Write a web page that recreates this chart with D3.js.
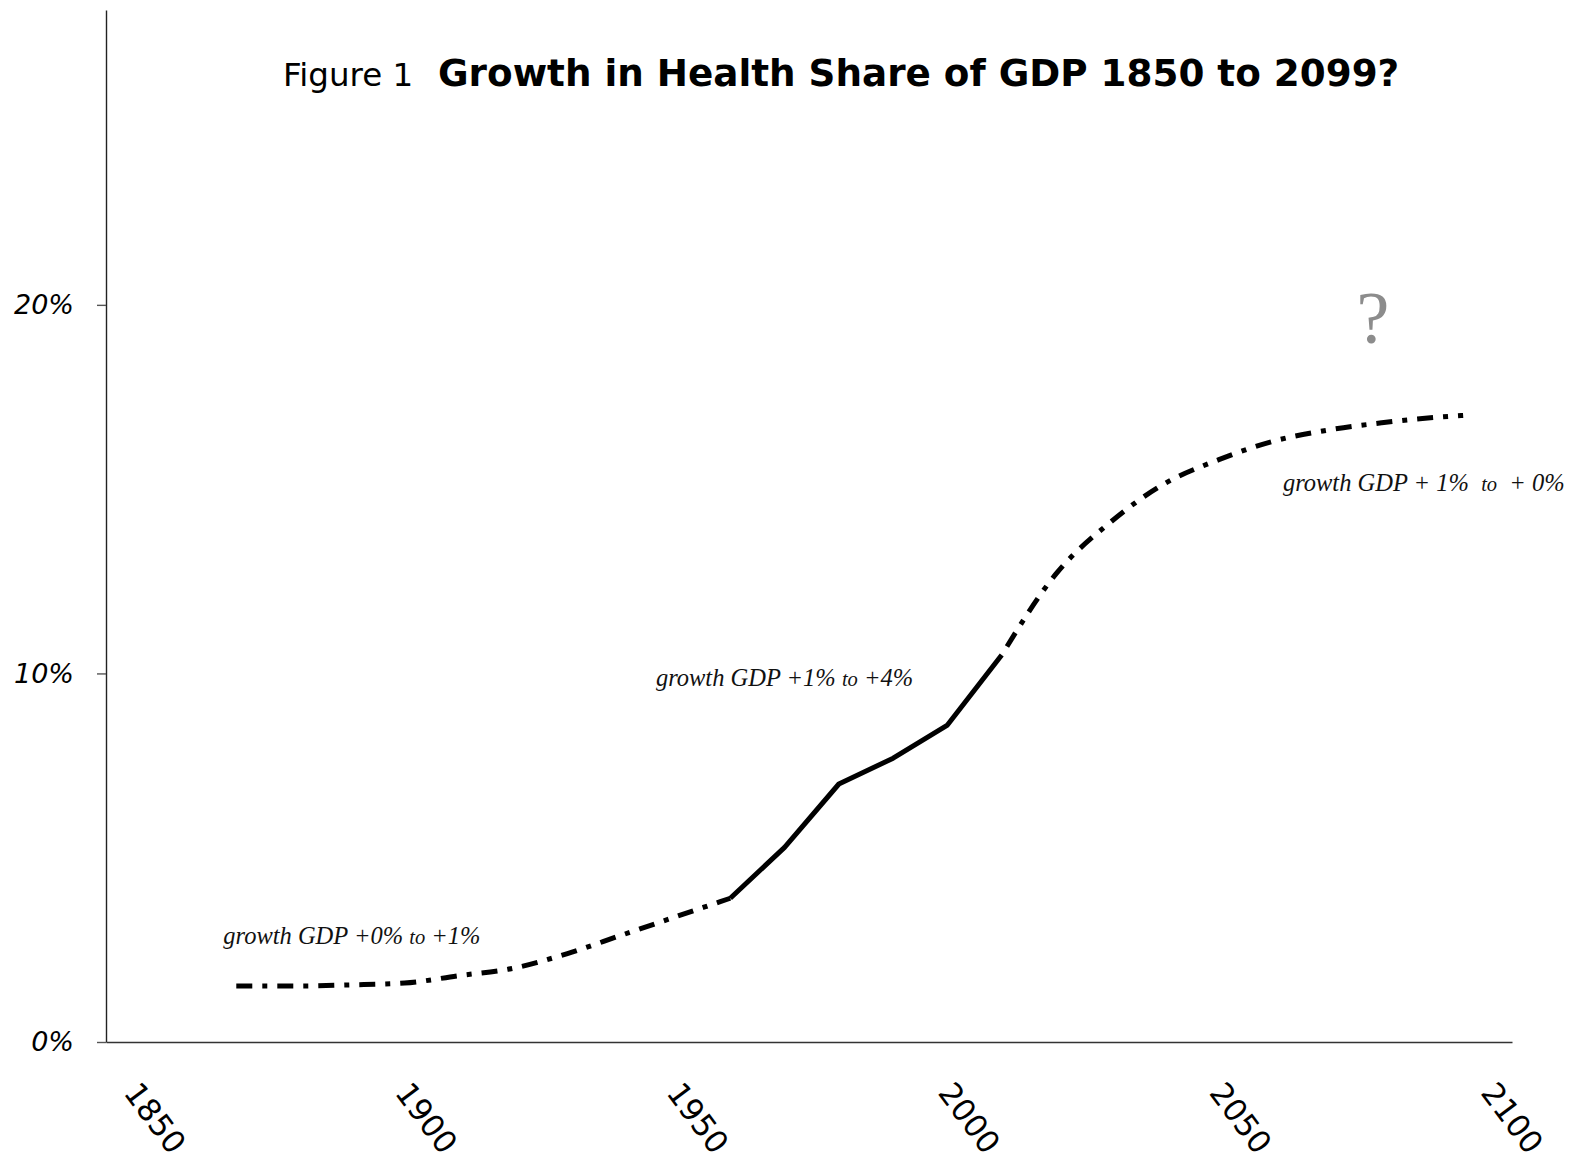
<!DOCTYPE html>
<html>
<head>
<meta charset="utf-8">
<script src="https://cdn.jsdelivr.net/npm/d3@7"></script>
<style>
  html, body { margin: 0; padding: 0; background: #fff; }
  svg { display: block; }
  .note { white-space: pre; }
</style>
</head>
<body>
<svg id="chart" width="1570" height="1162"></svg>
<script>
// Health spending as a share of GDP (%), by year
const histYears = [1869, 1880, 1890, 1900, 1910, 1920, 1930, 1940, 1950, 1960];
const histShare = [1.52, 1.52, 1.55, 1.6, 1.8, 2.0, 2.4, 2.9, 3.4, 3.9];

const obsYears = [1960, 1970, 1980, 1990, 2000, 2010];
const obsShare = [3.9, 5.28, 7.0, 7.7, 8.6, 10.5];

const projYears = [2010, 2020, 2030, 2040, 2050, 2060, 2070, 2080, 2090, 2095];
const projShare = [10.5, 12.7, 14.1, 15.15, 15.8, 16.3, 16.6, 16.8, 16.95, 17.0];

const xTickYears = [1850, 1900, 1950, 2000, 2050, 2100];
const yTickValues = [0, 10, 20];

const titlePrefix = "Figure 1";
const titleMain = "Growth in Health Share of GDP 1850 to 2099?";

const svg = d3.select("#chart");

const x = d3.scaleLinear().domain([1845, 2104]).range([106, 1512]);
const y = d3.scaleLinear().domain([0, 28]).range([1042, 10]);

const sans = "Verdana, 'DejaVu Sans', sans-serif";
const serif = "'Liberation Serif', 'Times New Roman', Times, serif";

// Y axis
const yAxis = d3.axisLeft(y)
  .tickValues(yTickValues)
  .tickSize(9)
  .tickSizeOuter(0)
  .tickPadding(23)
  .tickFormat(d => d + "%");

const gy = svg.append("g").attr("transform", `translate(${x.range()[0]},0)`).call(yAxis);
gy.select(".domain").attr("stroke", "#222").attr("stroke-width", 1.4);
gy.selectAll(".tick line").attr("stroke", "#555").attr("stroke-width", 1.4);
gy.selectAll(".tick text")
  .attr("font-family", sans)
  .attr("font-style", "italic")
  .attr("font-size", 27)
  .attr("fill", "#000");

// X axis
const xAxis = d3.axisBottom(x)
  .tickValues(xTickYears)
  .tickSize(0)
  .tickSizeOuter(0)
  .tickFormat(d3.format("d"));

const gx = svg.append("g").attr("transform", `translate(0,${y(0)})`).call(xAxis);
gx.select(".domain").attr("stroke", "#333").attr("stroke-width", 1.4);
gx.selectAll(".tick text")
  .attr("font-family", sans)
  .attr("font-size", 31)
  .attr("fill", "#000")
  .attr("text-anchor", "start")
  .attr("dy", null)
  .attr("y", null)
  .attr("transform", "translate(-11,51) rotate(53)");

// Lines
const line = d3.line()
  .x(d => x(d[0]))
  .y(d => y(d[1]))
  .curve(d3.curveMonotoneX);

const zip = (a, b) => a.map((v, i) => [v, b[i]]);

svg.append("path")
  .datum(zip(histYears, histShare))
  .attr("d", line)
  .attr("fill", "none")
  .attr("stroke", "#000")
  .attr("stroke-width", 5)
  .attr("stroke-dasharray", "16,10,5,10");

svg.append("path")
  .datum(zip(obsYears, obsShare))
  .attr("d", d3.line().x(d => x(d[0])).y(d => y(d[1])))
  .attr("fill", "none")
  .attr("stroke", "#000")
  .attr("stroke-width", 5)
  .attr("stroke-linejoin", "round");

svg.append("path")
  .datum(zip(projYears, projShare))
  .attr("d", line)
  .attr("fill", "none")
  .attr("stroke", "#000")
  .attr("stroke-width", 5)
  .attr("stroke-dasharray", "16,10,5,10")
  .attr("stroke-dashoffset", -10);

// Period annotations
function note(year, share, parts) {
  const t = svg.append("text")
    .attr("class", "note")
    .attr("x", x(year))
    .attr("y", y(share))
    .attr("font-family", serif)
    .attr("font-style", "italic")
    .attr("font-size", 24.5)
    .attr("fill", "#111");
  parts.forEach(p => {
    t.append("tspan").attr("font-size", p[1]).text(p[0]);
  });
}
note(1866.6, 2.66, [["growth GDP +0% ", 24.5], ["to", 20.5], [" +1%", 24.5]]);
note(1946.3, 9.66, [["growth GDP +1% ", 24.5], ["to", 20.5], [" +4%", 24.5]]);
note(2061.8, 14.95, [["growth GDP + 1%  ", 24.5], ["to", 20.5], ["  + 0%", 24.5]]);

svg.append("text")
  .attr("x", x(2078.4))
  .attr("y", y(18.97))
  .attr("text-anchor", "middle")
  .attr("font-family", serif)
  .attr("font-size", 74)
  .attr("fill", "#8c8c8c")
  .text("?");

// Title
svg.append("text")
  .attr("x", 283)
  .attr("y", 86)
  .attr("font-family", sans)
  .attr("font-size", 32.5)
  .attr("fill", "#000")
  .text(titlePrefix);

svg.append("text")
  .attr("x", 438)
  .attr("y", 86)
  .attr("font-family", sans)
  .attr("font-weight", "bold")
  .attr("font-size", 37.3)
  .attr("fill", "#000")
  .text(titleMain);
</script>
</body>
</html>
